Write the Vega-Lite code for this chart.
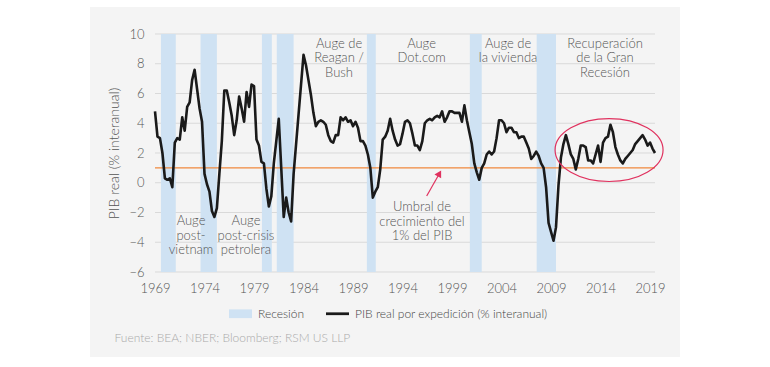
{
  "$schema": "https://vega.github.io/schema/vega-lite/v6.json",
  "width": 500,
  "height": 238,
  "autosize": {"type": "none"},
  "padding": {"left": 155, "top": 34, "right": 115, "bottom": 95},
  "background": "white",
  "config": {
    "font": "Lato",
    "view": {"stroke": null},
    "axis": {"grid": false, "domain": false, "ticks": false, "tickSize": 0, "labelOverlap": false, "labelFlush": false, "labelFont": "Lato", "labelFontSize": 13, "labelFontWeight": 300, "labelColor": "#555555", "titleFont": "Lato", "titleFontSize": 14, "titleFontWeight": 300, "titleColor": "#555555", "zindex": 1},
    "axisQuantitative": {"labelOverlap": false},
    "axisX": {"labelPadding": 10, "titleFontSize": 12, "titleColor": "#aaaaaa", "titleX": -41, "titleY": 60, "titleAlign": "left", "titleBaseline": "top", "titleAnchor": "start", "titleAngle": 0},
    "axisY": {"labelPadding": 11, "titlePadding": 7}
  },
  "datasets": {
    "recessions": [
      {"start": 1969.6, "end": 1971.1},
      {"start": 1973.6, "end": 1975.25},
      {"start": 1979.8, "end": 1980.8},
      {"start": 1981.3, "end": 1983.0},
      {"start": 1990.4, "end": 1991.3},
      {"start": 2000.8, "end": 2002.0},
      {"start": 2007.55, "end": 2009.5}
    ],
    "grid": [{"g": -6}, {"g": -4}, {"g": -2}, {"g": 0}, {"g": 2}, {"g": 4}, {"g": 6}, {"g": 8}, {"g": 10}],
    "notes": [
      {"year": 1987.59, "value": 9.76, "label": "Auge de\nReagan /\nBush"},
      {"year": 1995.92, "value": 9.76, "label": "Auge\nDot.com"},
      {"year": 2004.66, "value": 9.76, "label": "Auge de\nla vivienda"},
      {"year": 2014.45, "value": 9.76, "label": "Recuperación\nde la Gran\nRecesión"},
      {"year": 1972.64, "value": -2.18, "label": "Auge\npost-\nvietnam"},
      {"year": 1978.19, "value": -2.18, "label": "Auge\npost-crisis\npetrolera"},
      {"year": 1995.97, "value": -1.24, "label": "Umbral de\ncrecimiento del\n1% del PIB"}
    ],
    "gdp": [
      {"t":1969,"v":4.8},{"t":1969.25,"v":3.1},{"t":1969.5,"v":3.0},{"t":1969.75,"v":2.0},
      {"t":1970,"v":0.3},{"t":1970.25,"v":0.2},{"t":1970.5,"v":0.3},{"t":1970.75,"v":-0.3},
      {"t":1971,"v":2.7},{"t":1971.25,"v":3.0},{"t":1971.5,"v":2.9},{"t":1971.75,"v":4.4},
      {"t":1972,"v":3.5},{"t":1972.25,"v":5.1},{"t":1972.5,"v":5.4},{"t":1972.75,"v":6.9},
      {"t":1973,"v":7.6},{"t":1973.25,"v":6.3},{"t":1973.5,"v":5.0},{"t":1973.75,"v":4.1},
      {"t":1974,"v":0.6},{"t":1974.25,"v":-0.1},{"t":1974.5,"v":-0.6},{"t":1974.75,"v":-1.9},
      {"t":1975,"v":-2.3},{"t":1975.25,"v":-1.7},{"t":1975.5,"v":0.6},{"t":1975.75,"v":2.8},
      {"t":1976,"v":6.2},{"t":1976.25,"v":6.2},{"t":1976.5,"v":5.4},{"t":1976.75,"v":4.5},
      {"t":1977,"v":3.2},{"t":1977.25,"v":4.2},{"t":1977.5,"v":5.8},{"t":1977.75,"v":5.0},
      {"t":1978,"v":4.1},{"t":1978.25,"v":6.1},{"t":1978.5,"v":5.1},{"t":1978.75,"v":6.6},
      {"t":1979,"v":6.5},{"t":1979.25,"v":2.9},{"t":1979.5,"v":2.5},{"t":1979.75,"v":1.4},
      {"t":1980,"v":1.3},{"t":1980.25,"v":-0.4},{"t":1980.5,"v":-1.6},{"t":1980.75,"v":-0.9},
      {"t":1981,"v":1.3},{"t":1981.25,"v":2.8},{"t":1981.5,"v":4.3},{"t":1981.75,"v":1.0},
      {"t":1982,"v":-2.3},{"t":1982.25,"v":-1.0},{"t":1982.5,"v":-2.0},{"t":1982.75,"v":-2.6},
      {"t":1983,"v":0.6},{"t":1983.25,"v":2.6},{"t":1983.5,"v":4.6},{"t":1983.75,"v":6.6},
      {"t":1984,"v":8.6},{"t":1984.25,"v":7.9},{"t":1984.5,"v":6.9},{"t":1984.75,"v":5.9},
      {"t":1985,"v":4.7},{"t":1985.25,"v":3.8},{"t":1985.5,"v":4.1},{"t":1985.75,"v":4.2},
      {"t":1986,"v":4.1},{"t":1986.25,"v":3.9},{"t":1986.5,"v":3.2},{"t":1986.75,"v":2.8},
      {"t":1987,"v":2.7},{"t":1987.25,"v":3.2},{"t":1987.5,"v":3.2},{"t":1987.75,"v":4.4},
      {"t":1988,"v":4.2},{"t":1988.25,"v":4.4},{"t":1988.5,"v":4.1},{"t":1988.75,"v":4.2},
      {"t":1989,"v":3.8},{"t":1989.25,"v":4.1},{"t":1989.5,"v":3.7},{"t":1989.75,"v":2.8},
      {"t":1990,"v":2.8},{"t":1990.25,"v":2.5},{"t":1990.5,"v":1.9},{"t":1990.75,"v":1.0},
      {"t":1991,"v":-1.0},{"t":1991.25,"v":-0.6},{"t":1991.5,"v":-0.3},{"t":1991.75,"v":0.9},
      {"t":1992,"v":2.9},{"t":1992.25,"v":3.1},{"t":1992.5,"v":3.5},{"t":1992.75,"v":4.3},
      {"t":1993,"v":3.5},{"t":1993.25,"v":2.9},{"t":1993.5,"v":2.5},{"t":1993.75,"v":2.6},
      {"t":1994,"v":3.3},{"t":1994.25,"v":4.1},{"t":1994.5,"v":4.2},{"t":1994.75,"v":4.0},
      {"t":1995,"v":3.3},{"t":1995.25,"v":2.5},{"t":1995.5,"v":2.5},{"t":1995.75,"v":2.2},
      {"t":1996,"v":2.8},{"t":1996.25,"v":4.0},{"t":1996.5,"v":4.2},{"t":1996.75,"v":4.3},
      {"t":1997,"v":4.2},{"t":1997.25,"v":4.4},{"t":1997.5,"v":4.5},{"t":1997.75,"v":4.4},
      {"t":1998,"v":4.8},{"t":1998.25,"v":4.1},{"t":1998.5,"v":4.4},{"t":1998.75,"v":4.8},
      {"t":1999,"v":4.8},{"t":1999.25,"v":4.7},{"t":1999.5,"v":4.7},{"t":1999.75,"v":4.7},
      {"t":2000,"v":4.1},{"t":2000.25,"v":5.2},{"t":2000.5,"v":4.2},{"t":2000.75,"v":3.4},
      {"t":2001,"v":2.6},{"t":2001.25,"v":1.3},{"t":2001.5,"v":0.7},{"t":2001.75,"v":0.2},
      {"t":2002,"v":1.0},{"t":2002.25,"v":1.3},{"t":2002.5,"v":1.9},{"t":2002.75,"v":2.1},
      {"t":2003,"v":1.9},{"t":2003.25,"v":2.1},{"t":2003.5,"v":3.0},{"t":2003.75,"v":4.2},
      {"t":2004,"v":4.2},{"t":2004.25,"v":4.0},{"t":2004.5,"v":3.4},{"t":2004.75,"v":3.7},
      {"t":2005,"v":3.7},{"t":2005.25,"v":3.4},{"t":2005.5,"v":3.4},{"t":2005.75,"v":3.0},
      {"t":2006,"v":3.1},{"t":2006.25,"v":3.1},{"t":2006.5,"v":2.7},{"t":2006.75,"v":2.3},
      {"t":2007,"v":1.6},{"t":2007.25,"v":1.8},{"t":2007.5,"v":2.1},{"t":2007.75,"v":1.8},
      {"t":2008,"v":1.3},{"t":2008.25,"v":1.0},{"t":2008.5,"v":-0.3},{"t":2008.75,"v":-2.7},
      {"t":2009,"v":-3.3},{"t":2009.25,"v":-3.9},{"t":2009.5,"v":-3.0},{"t":2009.75,"v":-0.2},
      {"t":2010,"v":1.7},{"t":2010.25,"v":2.6},{"t":2010.5,"v":3.2},{"t":2010.75,"v":2.6},
      {"t":2011,"v":1.9},{"t":2011.25,"v":1.6},{"t":2011.5,"v":0.9},{"t":2011.75,"v":1.6},
      {"t":2012,"v":2.5},{"t":2012.25,"v":2.5},{"t":2012.5,"v":2.4},{"t":2012.75,"v":1.5},
      {"t":2013,"v":1.5},{"t":2013.25,"v":1.3},{"t":2013.5,"v":1.9},{"t":2013.75,"v":2.5},
      {"t":2014,"v":1.4},{"t":2014.25,"v":2.7},{"t":2014.5,"v":3.0},{"t":2014.75,"v":3.1},
      {"t":2015,"v":3.9},{"t":2015.25,"v":3.4},{"t":2015.5,"v":2.4},{"t":2015.75,"v":1.9},
      {"t":2016,"v":1.5},{"t":2016.25,"v":1.3},{"t":2016.5,"v":1.6},{"t":2016.75,"v":1.8},
      {"t":2017,"v":2.0},{"t":2017.25,"v":2.2},{"t":2017.5,"v":2.6},{"t":2017.75,"v":2.8},
      {"t":2018,"v":3.0},{"t":2018.25,"v":3.2},{"t":2018.5,"v":2.9},{"t":2018.75,"v":2.5},
      {"t":2019,"v":2.7},{"t":2019.25,"v":2.3},{"t":2019.5,"v":2.0}
    ]
  },
  "layer": [
    {
      "data": {"values": [{}]},
      "mark": {"type": "rect", "color": "#f4f4f4"},
      "encoding": {
        "x": {"datum": 1962.43, "type": "quantitative", "scale": {"domain": [1969, 2019.5], "nice": false, "zero": false}},
        "x2": {"datum": 2022.03},
        "y": {"datum": 11.82, "type": "quantitative", "scale": {"domain": [-6, 10], "nice": false, "zero": false}},
        "y2": {"datum": -11.71}
      }
    },
    {
      "data": {"name": "grid"},
      "mark": {"type": "rule", "color": "#d9d9d9", "strokeWidth": 1},
      "encoding": {
        "y": {"field": "g", "type": "quantitative", "title": "PIB real (% interanual)", "scale": {"domain": [-6, 10], "nice": false, "zero": false}, "axis": {"values": [-6, -4, -2, 0, 2, 4, 6, 8, 10], "zindex": 1, "labelOverlap": false, "tickCount": 9}}
      }
    },
    {
      "data": {"name": "recessions"},
      "mark": {"type": "rect"},
      "encoding": {
        "x": {"field": "start", "type": "quantitative", "title": "Fuente: BEA; NBER; Bloomberg; RSM US LLP", "scale": {"domain": [1969, 2019.5], "nice": false, "zero": false}},
        "x2": {"field": "end"},
        "color": {"datum": "Recesión", "scale": {"domain": ["Recesión", "PIB real por expedición (% interanual)"], "range": ["#cfe2f3", "#1a1a1a"]}}
      }
    },
    {
      "data": {"values": [{}]},
      "mark": {"type": "rule", "color": "#f0883c", "strokeWidth": 1.2},
      "encoding": {
        "y": {"datum": 1, "scale": {"domain": [-6, 10], "nice": false, "zero": false}}
      }
    },
    {
      "data": {"name": "gdp"},
      "mark": {"type": "line", "strokeWidth": 2.6, "strokeJoin": "round"},
      "encoding": {
        "x": {"field": "t", "type": "quantitative", "title": "Fuente: BEA; NBER; Bloomberg; RSM US LLP", "scale": {"domain": [1969, 2019.5], "nice": false, "zero": false}, "axis": {"values": [1969, 1974, 1979, 1984, 1989, 1994, 1999, 2004, 2009, 2014, 2019], "format": "d", "zindex": 1, "labelFlush": false, "labelOverlap": false}},
        "y": {"field": "v", "type": "quantitative", "title": "PIB real (% interanual)", "scale": {"domain": [-6, 10], "nice": false, "zero": false}, "axis": {"values": [-6, -4, -2, 0, 2, 4, 6, 8, 10], "zindex": 1, "labelOverlap": false, "tickCount": 9}},
        "color": {
          "datum": "PIB real por expedición (% interanual)",
          "scale": {"domain": ["Recesión", "PIB real por expedición (% interanual)"], "range": ["#cfe2f3", "#1a1a1a"]},
          "legend": {
            "orient": "none", "legendX": 74, "legendY": 268, "direction": "horizontal", "title": null,
            "symbolSize": 529, "labelOffset": 6, "columnPadding": 21, "labelFontSize": 12, "labelFontWeight": 300, "labelColor": "#444444", "labelFont": "Lato", "padding": 0, "labelLimit": 400,
            "encode": {"symbols": {"update": {
              "shape": {"signal": "datum.value === 'Recesión' ? 'M-1,-0.38L1,-0.38L1,0.38L-1,0.38Z' : 'M-1,-0.12L1,-0.12L1,0.12L-1,0.12Z'"},
              "fill": {"signal": "scale('color', datum.value)"},
              "stroke": {"value": "transparent"},
              "strokeWidth": {"value": 0},
              "opacity": {"value": 1}
            }}}
          }
        }
      }
    },
    {
      "data": {"name": "notes"},
      "mark": {"type": "text", "align": "center", "baseline": "top", "lineBreak": "\n", "fontSize": 13, "fontWeight": 300, "lineHeight": 14.5, "color": "#555555", "font": "Lato"},
      "encoding": {
        "x": {"field": "year", "type": "quantitative", "title": "Fuente: BEA; NBER; Bloomberg; RSM US LLP", "scale": {"domain": [1969, 2019.5], "nice": false, "zero": false}},
        "y": {"field": "value", "type": "quantitative", "title": "PIB real (% interanual)", "scale": {"domain": [-6, 10], "nice": false, "zero": false}, "axis": {"values": [-6, -4, -2, 0, 2, 4, 6, 8, 10], "zindex": 1, "labelOverlap": false, "tickCount": 9}},
        "text": {"field": "label"}
      }
    },
    {
      "data": {"values": [{}]},
      "mark": {"type": "rule", "color": "#e0325f", "strokeWidth": 1.2},
      "encoding": {
        "x": {"datum": 1996.44, "scale": {"domain": [1969, 2019.5], "nice": false, "zero": false}},
        "y": {"datum": -0.89, "scale": {"domain": [-6, 10], "nice": false, "zero": false}},
        "x2": {"datum": 1997.73},
        "y2": {"datum": 0.62}
      }
    },
    {
      "data": {"values": [{}]},
      "mark": {"type": "point", "shape": "triangle-up", "angle": 30, "size": 60, "filled": true, "color": "#e0325f", "opacity": 1},
      "encoding": {
        "x": {"datum": 1997.73, "scale": {"domain": [1969, 2019.5], "nice": false, "zero": false}},
        "y": {"datum": 0.62, "scale": {"domain": [-6, 10], "nice": false, "zero": false}}
      }
    },
    {
      "data": {"values": [{}]},
      "mark": {"type": "point", "shape": "M-1,0C-1,-0.322 -0.552,-0.583 0,-0.583C0.552,-0.583 1,-0.322 1,0C1,0.322 0.552,0.583 0,0.583C-0.552,0.583 -1,0.322 -1,0Z", "size": 11664, "filled": false, "color": "#e0325f", "strokeWidth": 1.2, "opacity": 1},
      "encoding": {
        "x": {"datum": 2014.86, "scale": {"domain": [1969, 2019.5], "nice": false, "zero": false}},
        "y": {"datum": 2.2, "scale": {"domain": [-6, 10], "nice": false, "zero": false}}
      }
    }
  ]
}
